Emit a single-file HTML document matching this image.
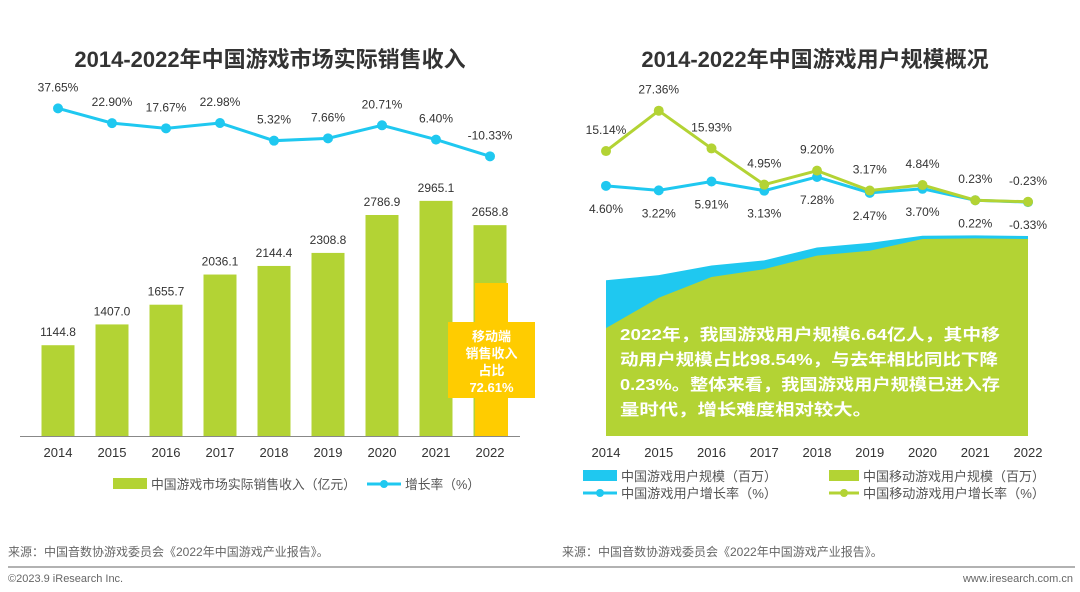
<!DOCTYPE html>
<html><head><meta charset="utf-8"><style>
body{margin:0;background:#fff;width:1080px;height:587px;overflow:hidden;font-family:"Liberation Sans","Noto Sans CJK SC",sans-serif}
</style></head><body>
<svg id="c" width="1080" height="587" xmlns="http://www.w3.org/2000/svg" font-family="Liberation Sans, Noto Sans CJK SC, sans-serif">
<text x="270" y="67" text-anchor="middle" font-size="22" font-weight="bold" fill="#333">2014-2022年中国游戏市场实际销售收入</text>
<text x="815" y="67" text-anchor="middle" font-size="22" font-weight="bold" fill="#333">2014-2022年中国游戏用户规模概况</text>
<g id="L"></g><g id="R"></g>
<line x1="20" y1="436.5" x2="520" y2="436.5" stroke="#888"/>
<rect x="113" y="478" width="34" height="11" fill="#b3d334"/>
<text x="151" y="489" font-size="13" fill="#555" textLength="205" lengthAdjust="spacingAndGlyphs">中国游戏市场实际销售收入（亿元）</text>
<line x1="367" y1="484" x2="401" y2="484" stroke="#1fc8f0" stroke-width="3"/>
<circle cx="384" cy="484" r="4" fill="#1fc8f0"/>
<text x="405" y="489" font-size="13" fill="#555" textLength="75" lengthAdjust="spacingAndGlyphs">增长率（%）</text>
<rect x="583" y="470" width="34" height="11" fill="#1fc8f0"/>
<text x="621" y="481" font-size="13" fill="#555" textLength="156" lengthAdjust="spacingAndGlyphs">中国游戏用户规模（百万）</text>
<rect x="829" y="470" width="30" height="11" fill="#b3d334"/>
<text x="863" y="481" font-size="13" fill="#555" textLength="182" lengthAdjust="spacingAndGlyphs">中国移动游戏用户规模（百万）</text>
<line x1="583" y1="493" x2="617" y2="493" stroke="#1fc8f0" stroke-width="3"/><circle cx="600" cy="493" r="4" fill="#1fc8f0"/>
<text x="621" y="498" font-size="13" fill="#555" textLength="156" lengthAdjust="spacingAndGlyphs">中国游戏用户增长率（%）</text>
<line x1="829" y1="493" x2="859" y2="493" stroke="#b3d334" stroke-width="3"/><circle cx="844" cy="493" r="4" fill="#b3d334"/>
<text x="863" y="498" font-size="13" fill="#555" textLength="182" lengthAdjust="spacingAndGlyphs">中国移动游戏用户增长率（%）</text>
<text x="8" y="556" font-size="12" fill="#666">来源：中国音数协游戏委员会《2022年中国游戏产业报告》。</text>
<text x="562" y="556" font-size="12" fill="#666">来源：中国音数协游戏委员会《2022年中国游戏产业报告》。</text>
<line x1="8" y1="567" x2="1075" y2="567" stroke="#999" stroke-width="1.5"/>
<text x="8" y="582" font-size="11" fill="#666">©2023.9 iResearch Inc.</text>
<text x="1073" y="582" font-size="11" fill="#666" text-anchor="end">www.iresearch.com.cn</text>
</svg>
<script>
const years=["2014","2015","2016","2017","2018","2019","2020","2021","2022"];
const revenue=[1144.8,1407.0,1655.7,2036.1,2144.4,2308.8,2786.9,2965.1,2658.8];
const revGrowth=[37.65,22.90,17.67,22.98,5.32,7.66,20.71,6.40,-10.33];
const users=[517,534,566,583,626,641,665,666,664];
const mobileUsers=[358,459,528,554,599,615,654,656,654];
const userGrowth=[4.60,3.22,5.91,3.13,7.28,2.47,3.70,0.22,-0.33];
const mobileGrowth=[15.14,27.36,15.93,4.95,9.20,3.17,4.84,0.23,-0.23];
const NS="http://www.w3.org/2000/svg";
function mk(p,t,a,txt){const e=document.createElementNS(NS,t);for(const k in a)e.setAttribute(k,a[k]);if(txt!=null)e.textContent=txt;p.appendChild(e);return e;}
const gL=document.getElementById('L'),gR=document.getElementById('R');
const lx=i=>58+i*54, ly=v=>436-v*0.0793, lg=v=>146-v*1.0;
const rx=i=>606+i*52.75, ry=v=>436-v*200/664, rg=v=>201-v*3.3;
revenue.forEach((v,i)=>{
 const b=mk(gL,'rect',{x:lx(i)-16.5,y:ly(v),width:33,height:436-ly(v),fill:'#b3d334'});
 
 
 const t=mk(gL,'text',{x:lx(i),y:ly(v)-9,'text-anchor':'middle','font-size':12,fill:'#333'},v.toFixed(1));
 
 
 const yl=mk(gL,'text',{x:lx(i),y:457,'text-anchor':'middle','font-size':13,fill:'#333'},years[i]);
 
 
});
const cr=mk(gL,'path',{d:'M475 283H508V322H535V398H508V437H475V398H448V322H475Z',fill:'#ffcc00'});


["移动端","销售收入","占比","72.61%"].forEach((s,k)=>mk(gL,'text',{x:491.5,y:341+k*17,'text-anchor':'middle','font-size':13,'font-weight':'bold',fill:'#fff'},s));
const lp=mk(gL,'polyline',{points:revGrowth.map((v,i)=>lx(i)+','+lg(v)).join(' '),fill:'none',stroke:'#1fc8f0','stroke-width':3});


revGrowth.forEach((v,i)=>{
 const c=mk(gL,'circle',{cx:lx(i),cy:lg(v),r:5,fill:'#1fc8f0'});
 
 
 mk(gL,'text',{x:lx(i),y:lg(v)-17,'text-anchor':'middle','font-size':12,fill:'#333'},v.toFixed(2)+'%');
});
const topPts=users.map((v,i)=>rx(i)+','+ry(v)).join(' ');
const a1=mk(gR,'polygon',{points:rx(0)+',436 '+topPts+' '+rx(8)+',436',fill:'#1fc8f0'});


const a2=mk(gR,'polygon',{points:rx(0)+',436 '+mobileUsers.map((v,i)=>rx(i)+','+ry(v)).join(' ')+' '+rx(8)+',436',fill:'#b3d334'});


years.forEach((y,i)=>{const t=mk(gR,'text',{x:rx(i),y:457,'text-anchor':'middle','font-size':13,fill:'#333'},y);
 
 });
const summary=["2022年，我国游戏用户规模6.64亿人，其中移","动用户规模占比98.54%，与去年相比同比下降","0.23%。整体来看，我国游戏用户规模已进入存","量时代，增长难度相对较大。"];
const sumW=[380,378,380,252];
summary.forEach((s,k)=>{const t=mk(gR,'text',{x:620,y:340+k*25,'font-size':16,'font-weight':'bold',fill:'#fff',textLength:sumW[k],lengthAdjust:'spacingAndGlyphs'},s);
 
 });
const ug=mk(gR,'polyline',{points:userGrowth.map((v,i)=>rx(i)+','+rg(v)).join(' '),fill:'none',stroke:'#1fc8f0','stroke-width':3});


const mg=mk(gR,'polyline',{points:mobileGrowth.map((v,i)=>rx(i)+','+rg(v)).join(' '),fill:'none',stroke:'#b3d334','stroke-width':3});


userGrowth.forEach((v,i)=>{
 const c=mk(gR,'circle',{cx:rx(i),cy:rg(v),r:5,fill:'#1fc8f0'});
 
 
 mk(gR,'text',{x:rx(i),y:rg(v)+27,'text-anchor':'middle','font-size':12,fill:'#333'},v.toFixed(2)+'%');
});
mobileGrowth.forEach((v,i)=>{
 const c=mk(gR,'circle',{cx:rx(i),cy:rg(v),r:5,fill:'#b3d334'});
 
 
 mk(gR,'text',{x:rx(i),y:rg(v)-17,'text-anchor':'middle','font-size':12,fill:'#333'},v.toFixed(2)+'%');
});
</script>
</body></html>
